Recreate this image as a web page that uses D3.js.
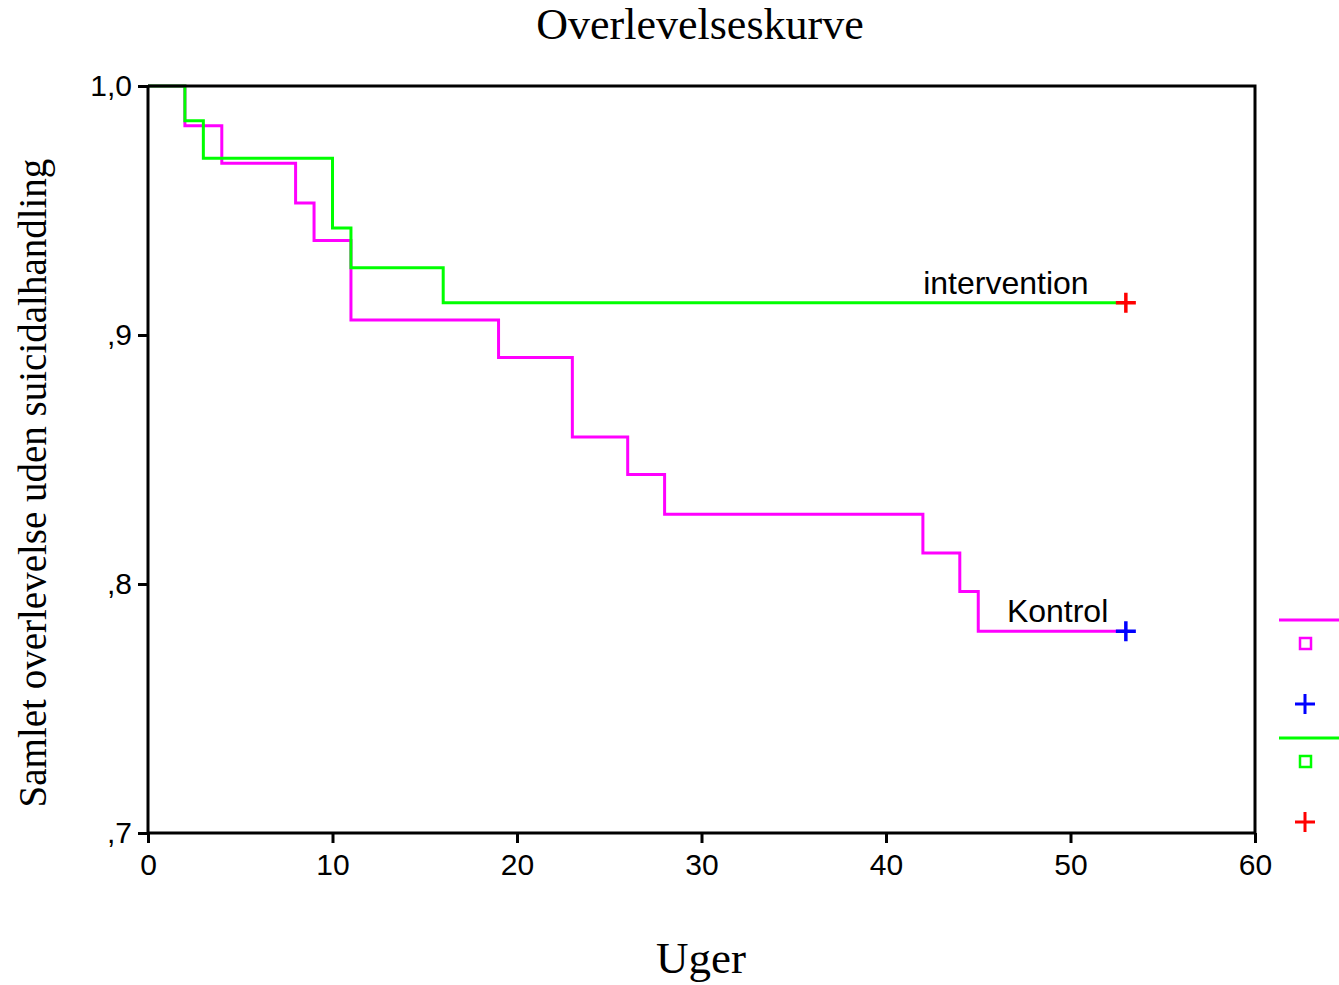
<!DOCTYPE html>
<html>
<head>
<meta charset="utf-8">
<script src="https://cdn.jsdelivr.net/npm/d3@7"></script>
<style>
  body { margin: 0; background: #fff; }
  svg { display: block; }
</style>
</head>
<body>
<div id="chart"></div>
<script>
// Kaplan-Meier steps
let kontrolTimes = [0, 2, 4, 8, 9, 11, 19, 23, 26, 28, 42, 44, 45, 53];
let kontrolSurv = [1, 0.984, 0.969, 0.953, 0.938, 0.906, 0.891, 0.859, 0.844, 0.828, 0.8125, 0.797, 0.781, 0.781];
let interventionTimes = [0, 2, 3, 10, 11, 16, 53];
let interventionSurv = [1, 0.986, 0.971, 0.943, 0.927, 0.913, 0.913];
let xTicks = [0, 10, 20, 30, 40, 50, 60];
let yTicks = [0.7, 0.8, 0.9, 1.0];
let yTickLabels = [',7', ',8', ',9', '1,0'];

let width = 1339, height = 985;
let margin = {left: 148, top: 86, right: 84, bottom: 152};
let plotW = width - margin.left - margin.right;
let plotH = height - margin.top - margin.bottom;

let svg = d3.select('#chart').append('svg')
    .attr('width', width)
    .attr('height', height);

let xScale = d3.scaleLinear().domain([0, 60]).range([margin.left, margin.left + plotW]);
let yScale = d3.scaleLinear().domain([0.7, 1.0]).range([margin.top + plotH, margin.top]);

// curves
let line = d3.line()
    .x(d => xScale(d.t))
    .y(d => yScale(d.s))
    .curve(d3.curveStepAfter);

let kontrol = kontrolTimes.map((t, i) => ({t: t, s: kontrolSurv[i]}));
let intervention = interventionTimes.map((t, i) => ({t: t, s: interventionSurv[i]}));

svg.append('path').datum(kontrol)
    .attr('d', line).attr('fill', 'none')
    .attr('stroke', '#ff00ff').attr('stroke-width', 3);
svg.append('path').datum(intervention)
    .attr('d', line).attr('fill', 'none')
    .attr('stroke', '#00ff00').attr('stroke-width', 3);

// frame (top + right)
svg.append('path')
    .attr('d', 'M' + xScale(0) + ',' + yScale(1) + 'H' + xScale(60) + 'V' + yScale(0.7))
    .attr('fill', 'none').attr('stroke', '#000').attr('stroke-width', 3);

// axes
let xAxis = d3.axisBottom(xScale).tickValues(xTicks).tickSize(10).tickPadding(11);
let yAxis = d3.axisLeft(yScale).tickValues(yTicks).tickSize(10).tickPadding(6)
    .tickFormat((d, i) => yTickLabels[i]);

let gx = svg.append('g')
    .attr('transform', 'translate(0,' + (margin.top + plotH) + ')')
    .call(xAxis);
let gy = svg.append('g')
    .attr('transform', 'translate(' + margin.left + ',0)')
    .call(yAxis);

[gx, gy].forEach(g => {
    g.select('.domain').attr('stroke', '#000').attr('stroke-width', 3);
    g.selectAll('.tick line').attr('stroke', '#000').attr('stroke-width', 3);
    g.selectAll('.tick text')
        .attr('font-family', 'Liberation Sans, Arial, sans-serif')
        .attr('font-size', 30).attr('fill', '#000');
});
gx.select('.domain').attr('d', 'M' + xScale(0) + ',0H' + xScale(60));
gy.select('.domain').attr('d', 'M0,' + yScale(0.7) + 'V' + yScale(1));

// censor markers
function plus(x, y, color) {
    svg.append('path')
        .attr('d', 'M' + (x - 10) + ',' + y + 'H' + (x + 10) + 'M' + x + ',' + (y - 10) + 'V' + (y + 10))
        .attr('stroke', color).attr('stroke-width', 3.5).attr('fill', 'none');
}
plus(xScale(53), yScale(interventionSurv[interventionSurv.length - 1]), '#ff0000');
plus(xScale(53), yScale(kontrolSurv[kontrolSurv.length - 1]), '#0000ff');

// curve labels
svg.append('text')
    .attr('x', xScale(46.5)).attr('y', yScale(0.913) - 9)
    .attr('text-anchor', 'middle')
    .attr('font-family', 'Liberation Sans, Arial, sans-serif').attr('font-size', 32)
    .text('intervention');
svg.append('text')
    .attr('x', xScale(49.3)).attr('y', yScale(0.781) - 9)
    .attr('text-anchor', 'middle')
    .attr('font-family', 'Liberation Sans, Arial, sans-serif').attr('font-size', 32)
    .text('Kontrol');

// titles
svg.append('text')
    .attr('x', 700).attr('y', 39)
    .attr('text-anchor', 'middle')
    .attr('font-family', 'Liberation Serif, Times New Roman, serif').attr('font-size', 44)
    .text('Overlevelseskurve');
svg.append('text')
    .attr('x', 701).attr('y', 973)
    .attr('text-anchor', 'middle')
    .attr('font-family', 'Liberation Serif, Times New Roman, serif').attr('font-size', 45)
    .text('Uger');
svg.append('text')
    .attr('transform', 'translate(46,' + 483 + ')rotate(-90)')
    .attr('text-anchor', 'middle')
    .attr('font-family', 'Liberation Serif, Times New Roman, serif').attr('font-size', 39)
    .text('Samlet overlevelse uden suicidalhandling');

// legend (clipped at the right edge, as in the original)
let lg = svg.append('g').attr('transform', 'translate(1279,0)');
let legendItems = [
    {y: 620, color: '#ff00ff', cross: '#0000ff'},
    {y: 738, color: '#00ff00', cross: '#ff0000'}
];
legendItems.forEach(it => {
    lg.append('line').attr('x1', 0).attr('x2', 70).attr('y1', it.y).attr('y2', it.y)
        .attr('stroke', it.color).attr('stroke-width', 3);
    lg.append('rect').attr('x', 21).attr('y', it.y + 18).attr('width', 11).attr('height', 11)
        .attr('fill', 'none').attr('stroke', it.color).attr('stroke-width', 2.5);
    lg.append('path')
        .attr('d', 'M16,' + (it.y + 84) + 'H36M26,' + (it.y + 74) + 'V' + (it.y + 94))
        .attr('stroke', it.cross).attr('stroke-width', 3).attr('fill', 'none');
});
</script>
</body>
</html>
